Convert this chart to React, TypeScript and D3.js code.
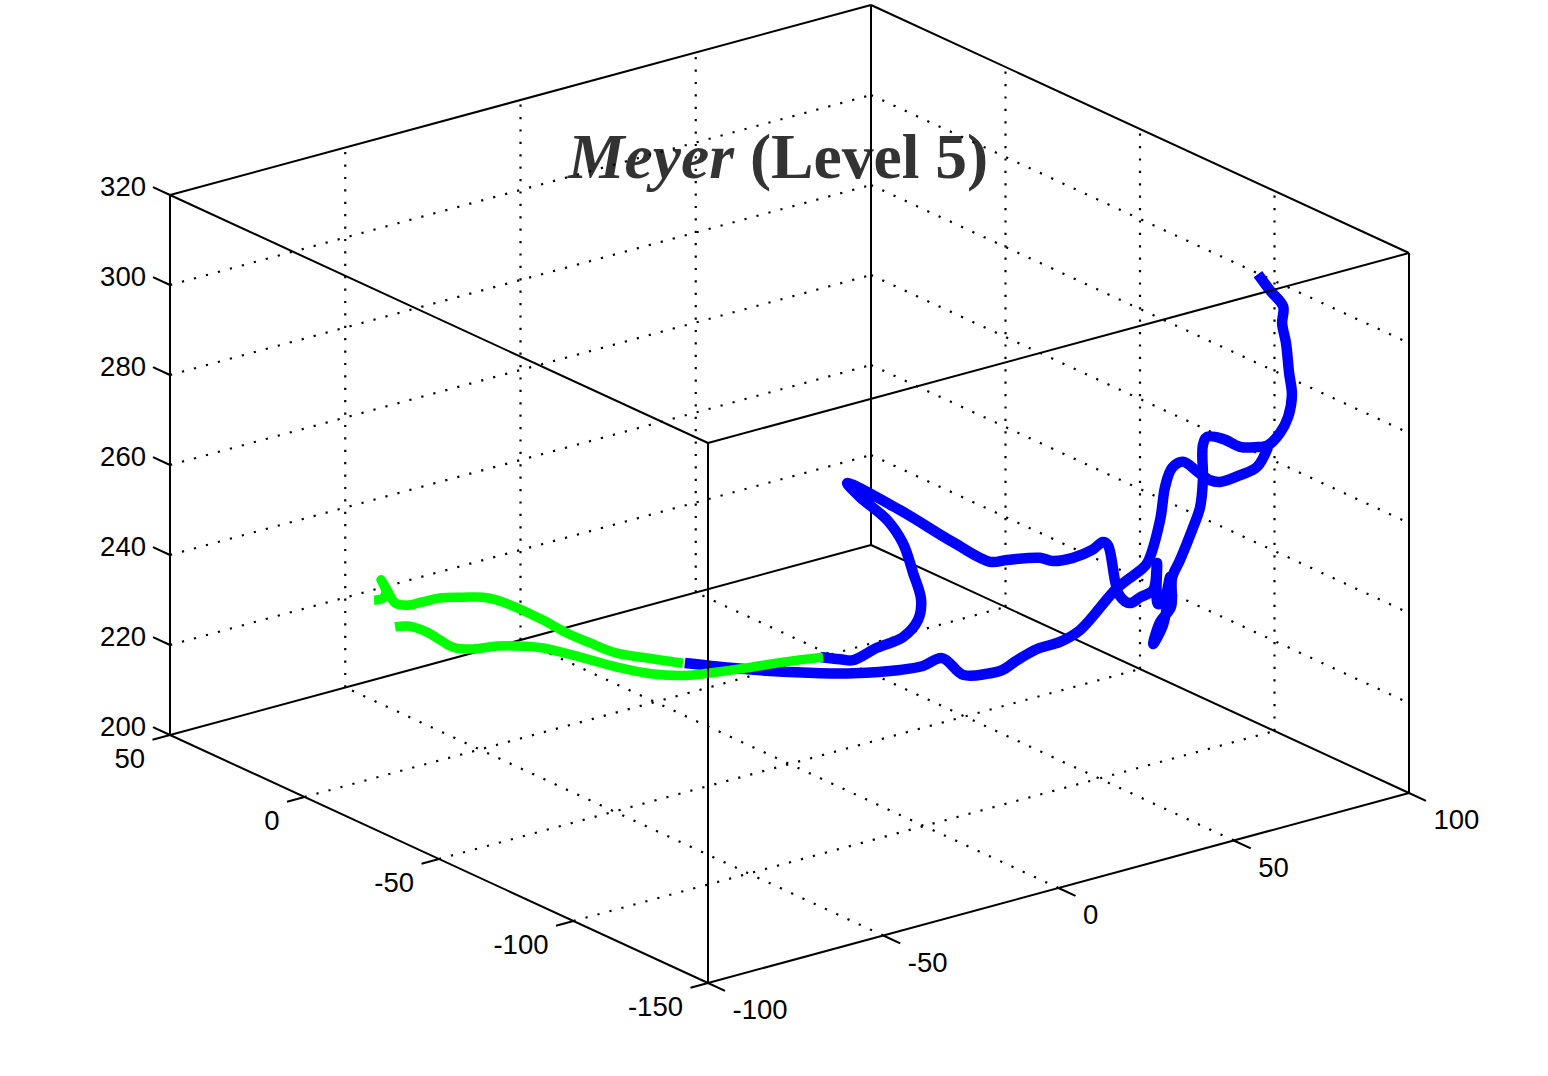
import React from "react";
import * as d3 from "d3";

// Axis ticks
const xTicks = [-100, -50, 0, 50, 100];
const yTicks = [-150, -100, -50, 0, 50];
const zTicks = [200, 220, 240, 260, 280, 300, 320];

// Depth of each trajectory is not readable from a single view: a plane is assumed for each series.
const blueDepth = -110;
const greenDepth = -20;

const blueAX = [87.6,91,94.8,94.5,95.6,96.5,97.3,96.2,93.9,90.5,86.8,82.5,77.6,73.1,71.9,71.9,71.1,68.8,65.4,63.1,62.8,59.7,57.7,60.5,61.9,62.5,60.8,59.1,58.8,57.7,54,51.1,48,44.8,43.4,40.3,34.8,29.1,25.4,16,11.2,0.6,-14.5,-29.6,-25.9,-18.2,-13.7,-10.8,-8.5,-9.4,-13.7,-21.1,-27.9,-31.6,-37.3];
const blueAZ = [306.9,302.6,298.2,294.5,289.9,283,278,273.3,270.3,268.3,268.6,269.6,272.4,273.8,272.2,264.5,258.6,254,248.1,244.6,238.2,235.5,231,234.6,239.9,244.9,240.1,239.6,248.8,243,242.2,241.5,244,255.7,256.7,255.6,255,255.5,257,258.5,259.1,265.7,276,285.2,281.3,274.6,268.5,261.3,254.8,250.5,247.6,246.8,245.5,246.5,248.2];

const blueBX = [90.5,87.3,82.5,76.8,73.9,70.5,66.2,63.1,61.1,59.7,56.2,54.8,47.4,36.8,31.1,24.6,18.9,14.6,10.3,3.5,-2.5,-8,-14.5,-27.9,-37.3,-51.6,-63,-75.9];
const blueBZ = [267.9,264.1,263.3,263,264,266.5,269.7,269,265.2,258.2,249.6,248.5,245.6,238.5,237.1,236.9,235.6,234.3,234.4,235.6,240.6,240,240.5,242.6,244.6,248.1,251.2,255];

const greenAX = [-89.5,-85.8,-80.4,-76.7,-73,-67.3,-60.4,-53,-47.3,-35.9,-26.2,-15.9,-5.4,0.3,10.9,21.2,32.6];
const greenAZ = [241.1,240.5,238,235.5,233.1,231.5,230.7,229.1,227.5,222.9,218.8,215.1,212.6,211.9,210.8,209.9,208.6];

const greenBX = [-7.4,-17.6,-26.2,-33.9,-40.5,-47.3,-54.7,-60.4,-64.4,-70.1,-76.7,-81.8,-86.1,-89.5,-91.5,-93.5,-92.1,-93,-95.5];
const greenBZ = [215.7,219,221.9,225.8,229.4,233.7,238,240.9,242.4,243.6,244.8,245,245.2,246.4,249.3,252.4,249.4,248.2,248.3];

// Axes on the page: a linear scale per data axis gives the fraction of its box edge
const fx = d3.scaleLinear().domain([-100, 100]).range([0, 1]);
const fy = d3.scaleLinear().domain([-150, 50]).range([0, 1]);
const fz = d3.scaleLinear().domain([200, 320]).range([0, 1]);
const ORIGIN: [number, number] = [708, 983];
const EX: [number, number] = [701, -190];
const EY: [number, number] = [-538, -248];
const EZ: [number, number] = [0, -540];

function project(x: number, y: number, z: number): [number, number] {
  const a = fx(x), b = fy(y), c = fz(z);
  return [
    ORIGIN[0] + a * EX[0] + b * EY[0] + c * EZ[0],
    ORIGIN[1] + a * EX[1] + b * EY[1] + c * EZ[1],
  ];
}

const curve = d3.line<[number, number]>().curve(d3.curveCatmullRom.alpha(0.5));
const straight = d3.line<[number, number]>();

function track(xs: number[], zs: number[], y: number) {
  return curve(xs.map((x, i) => project(x, y, zs[i]))) as string;
}
function seg(a: [number, number, number], b: [number, number, number]) {
  return straight([project(a[0], a[1], a[2]), project(b[0], b[1], b[2])]) as string;
}

const X0 = -100, X1 = 100, Y0 = -150, Y1 = 50, Z0 = 200, Z1 = 320;

const gridSegs: string[] = [
  ...xTicks.slice(1, -1).flatMap((x) => [
    seg([x, Y0, Z0], [x, Y1, Z0]),
    seg([x, Y1, Z0], [x, Y1, Z1]),
  ]),
  ...yTicks.slice(1, -1).flatMap((y) => [
    seg([X0, y, Z0], [X1, y, Z0]),
    seg([X1, y, Z0], [X1, y, Z1]),
  ]),
  ...zTicks.slice(1, -1).flatMap((z) => [
    seg([X0, Y1, z], [X1, Y1, z]),
    seg([X1, Y1, z], [X1, Y0, z]),
  ]),
];

const backEdges: string[] = [
  seg([X0, Y1, Z1], [X1, Y1, Z1]),
  seg([X1, Y1, Z1], [X1, Y0, Z1]),
  seg([X0, Y1, Z1], [X0, Y0, Z1]),
  seg([X0, Y1, Z0], [X0, Y1, Z1]),
  seg([X1, Y1, Z0], [X1, Y1, Z1]),
  seg([X0, Y1, Z0], [X1, Y1, Z0]),
  seg([X1, Y1, Z0], [X1, Y0, Z0]),
  seg([X0, Y0, Z0], [X0, Y1, Z0]),
  seg([X0, Y0, Z0], [X1, Y0, Z0]),
  seg([X1, Y0, Z0], [X1, Y0, Z1]),
];
const frontEdges: string[] = [
  seg([X0, Y0, Z0], [X0, Y0, Z1]),
  seg([X0, Y0, Z1], [X1, Y0, Z1]),
];

const FONT = "'Liberation Sans', Arial, sans-serif";
const SIZE = 27.5;
const BASE = 10;
const LINE = "#000";

export default function App() {
  return (
    <svg
      width={1548}
      height={1076}
      viewBox="0 0 1548 1076"
      style={{ position: "absolute", left: 0, top: 0, background: "#fff" }}
    >
      <text
        x={568}
        y={178}
        fontFamily="'Liberation Serif', 'Times New Roman', serif"
        fontWeight="bold"
        fontSize={63.6}
        fill="#333333"
      >
        <tspan fontStyle="italic">Meyer</tspan> (Level 5)
      </text>

      {gridSegs.map((d, i) => (
        <path key={i} d={d} fill="none" stroke={LINE} strokeWidth={2.2} strokeDasharray="2.2 10.2" />
      ))}
      {backEdges.map((d, i) => (
        <path key={i} d={d} fill="none" stroke={LINE} strokeWidth={2} />
      ))}

      <g fill="none" strokeLinejoin="round">
        <path d={track(blueAX, blueAZ, blueDepth)} stroke="#0000ff" strokeWidth={10.5} />
        <path d={track(blueBX, blueBZ, blueDepth)} stroke="#0000ff" strokeWidth={10.5} />
        <path d={track(greenAX, greenAZ, greenDepth)} stroke="#00ff00" strokeWidth={9.5} />
        <path d={track(greenBX, greenBZ, greenDepth)} stroke="#00ff00" strokeWidth={9.5} />
      </g>

      {frontEdges.map((d, i) => (
        <path key={i} d={d} fill="none" stroke={LINE} strokeWidth={2} />
      ))}

      <g stroke={LINE} strokeWidth={2}>
        {zTicks.map((z) => {
          const [px, py] = project(X0, Y1, z);
          return <line key={z} x1={px} y1={py} x2={px - 17} y2={py - 7.8} />;
        })}
        {yTicks.map((y) => {
          const [px, py] = project(X0, y, Z0);
          return <line key={y} x1={px} y1={py} x2={px - 17.5} y2={py + 4.7} />;
        })}
        {xTicks.map((x) => {
          const [px, py] = project(x, Y0, Z0);
          return <line key={x} x1={px} y1={py} x2={px + 17} y2={py + 7.8} />;
        })}
      </g>

      <g fontFamily={FONT} fontSize={SIZE} fill="#000">
        {zTicks.map((z) => {
          const [px, py] = project(X0, Y1, z);
          return (
            <text key={z} x={px - 24} y={py - 9.5 + BASE} textAnchor="end">
              {z}
            </text>
          );
        })}
        {yTicks.map((y) => {
          const [px, py] = project(X0, y, Z0);
          return (
            <text key={y} x={px - 25} y={py + 22.7 + BASE} textAnchor="end">
              {y}
            </text>
          );
        })}
        {xTicks.map((x) => {
          const [px, py] = project(x, Y0, Z0);
          return (
            <text key={x} x={px + 24.5} y={py + 26.4 + BASE} textAnchor="start">
              {x}
            </text>
          );
        })}
      </g>
    </svg>
  );
}
